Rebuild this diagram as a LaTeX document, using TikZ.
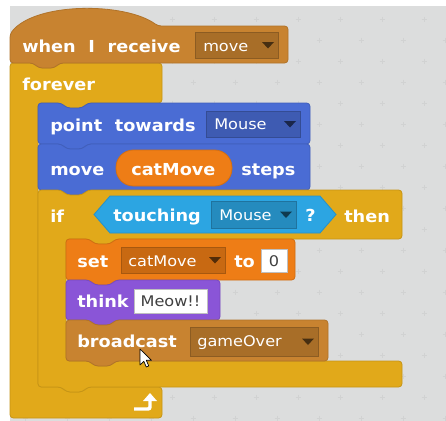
\documentclass[tikz,border=0pt]{standalone}
\usepackage{fontspec}
\setmainfont{DejaVu Sans}
\newfontfamily\blkfam{DejaVu Sans Bold}[FakeStretch=1.07]
\newfontfamily\ddfam{DejaVu Sans}[FakeStretch=1.1]
\usepackage{tikz}

\definecolor{events}{HTML}{C88330}
\definecolor{control}{HTML}{E1A91A}
\definecolor{motion}{HTML}{4A6CD4}
\definecolor{looks}{HTML}{8A55D7}
\definecolor{sensing}{HTML}{2CA5E2}
\definecolor{data}{HTML}{EE7D16}
\definecolor{canvas}{HTML}{DCDDDD}
\definecolor{gridplus}{HTML}{D1D2D2}

\newcommand\lblfont{\blkfam\fontsize{12.4}{12.4}\selectfont\spaceskip=9.5pt\relax}
\newcommand\ddfont{\ddfam\fontsize{11}{11}\selectfont}
% stack block: colour, left, top, right, bottom
\newcommand\stackblk[5]{%
  \filldraw[fill=#1,draw=#1!88!black,line width=0.6pt,rounded corners=2.5]
    (#2,#3) -- ({#2+23},#3) -- ({#2+29},{#3+5}) -- ({#2+44},{#3+5}) -- ({#2+50},#3)
    -- (#4,#3) -- (#4,#5) -- ({#2+50},#5) -- ({#2+44},{#5+5}) -- ({#2+29},{#5+5})
    -- ({#2+23},#5) -- (#2,#5) -- cycle;}
% dropdown: colour, left, top, right, bottom
\newcommand\ddbox[5]{%
  \filldraw[fill=#1!84!black,draw=#1!70!black,line width=0.4pt] (#2,#3) rectangle (#4,#5);
  \fill[#1!35!black] ({#4-16},{(#3+#5)/2-3}) -- ++(12,0) -- ++(-6,6.5) -- cycle;}

\begin{document}
\begin{tikzpicture}[x=0.75pt,y=-0.75pt,
  lbl/.style={anchor=base west,inner sep=0,text=white,font=\lblfont},
  ddtxt/.style={anchor=base west,inner sep=0,text=white,font=\ddfont},
  field/.style={fill=white,draw=black!25,line width=0.4pt},
  fldtxt/.style={anchor=base,inner sep=0,text=black!75,font=\ddfont}]
\useasboundingbox (0,0) rectangle (446,421);

% scripts area with its grid
\fill[white] (0,0) rectangle (446,421);
\fill[canvas] (10,6) rectangle (446,421);
\begin{scope}
\clip (10,6) rectangle (446,421);
\foreach \j in {0,...,19}
  \foreach \i in {0,...,10}
    \draw[gridplus,line width=0.5pt] ({4+42*\i+21*mod(\j,2)-2.5},{19+21*\j}) -- ++(5,0)
      ({4+42*\i+21*mod(\j,2)},{19+21*\j-2.5}) -- ++(0,5);
\end{scope}

% forever
\filldraw[fill=control,draw=control!88!black,line width=0.6pt,rounded corners=2.5]
  (10,63) -- (33,63) -- (39,68) -- (54,68) -- (60,63) -- (162,63) -- (162,103)
  -- (88,103) -- (82,108) -- (67,108) -- (61,103) -- (38,103)
  -- (38,387) -- (61,387) -- (67,392) -- (82,392) -- (88,387) -- (162,387)
  -- (162,418) -- (10,418) -- cycle;
\node[lbl] (fvr) at (22,90.5) {forever};
\draw[white,line width=2.6pt,rounded corners=1.5] (134,409) -- (150,409) -- (150,400);
\fill[white] (143,401) -- (157,401) -- (150,393) -- cycle;

% hat
\filldraw[fill=events,draw=events!88!black,line width=0.6pt,rounded corners=2.5]
  (10,63) -- (10,34) .. controls (35,2) and (125,2) .. (158,26) -- (288,26) -- (288,63)
  -- (60,63) -- (54,68) -- (39,68) -- (33,63) -- cycle;
\node[lbl] (recv) at (22,52) {when I receive};
\ddbox{events}{195}{32}{278}{58}
\node[ddtxt] (msg) at (203,51.5) {move};

% motion
\stackblk{motion}{38}{103}{310}{144}
\node[lbl] (point) at (50,131.5) {point towards};
\ddbox{motion}{206}{111}{300}{137}
\node[ddtxt] (tgt) at (214,129.5) {Mouse};

\stackblk{motion}{38}{144}{310}{190}
\node[lbl] (mv) at (50,175) {move};
\filldraw[fill=data,draw=data!88!black,line width=0.6pt,rounded corners=13pt] (116,150) rectangle (232,186);
\node[lbl] (var) at (131,175) {catMove};
\node[lbl] (stp) at (241,175) {steps};

% if ... then
\filldraw[fill=control,draw=control!88!black,line width=0.6pt,rounded corners=2.5]
  (38,190) -- (61,190) -- (67,195) -- (82,195) -- (88,190) -- (402,190) -- (402,239)
  -- (116,239) -- (110,244) -- (95,244) -- (89,239) -- (66,239)
  -- (66,361) -- (89,361) -- (95,366) -- (110,366) -- (116,361) -- (402,361)
  -- (402,387) -- (88,387) -- (82,392) -- (67,392) -- (61,387) -- (38,387) -- cycle;
\node[lbl] (cond) at (50,222.5) {if};
\filldraw[fill=sensing,draw=sensing!88!black,line width=0.6pt]
  (94,214.5) -- (110,196) -- (320,196) -- (336,214.5) -- (320,233) -- (110,233) -- cycle;
\node[lbl] (tch) at (113,221.5) {touching};
\ddbox{sensing}{211}{201}{296}{228}
\node[ddtxt] (obj) at (219,220) {Mouse};
\node[lbl] (qm) at (305,221.5) {?};
\node[lbl] (thn) at (344,222) {then};

% inside the if
\stackblk{data}{66}{239}{295}{280}
\node[lbl] (st) at (77,267) {set};
\ddbox{data}{121}{247}{225}{273}
\node[ddtxt] (vsel) at (128,266.5) {catMove};
\node[lbl] (to) at (234,267) {to};
\filldraw[field] (261,249) rectangle (287,272);
\node[fldtxt] (val) at (274,266.5) {0};

\stackblk{looks}{66}{280}{220}{320}
\node[lbl] (thk) at (77,307.5) {think};
\filldraw[field] (134,289) rectangle (207,313);
\node[fldtxt] (say) at (170.5,306.5) {Meow!!};

\stackblk{events}{66}{320}{328}{361}
\node[lbl] (bc) at (77,347) {broadcast};
\ddbox{events}{190}{327}{318}{356}
\node[ddtxt] (out) at (197,346.5) {gameOver};

% mouse pointer
\coordinate (cur) at (140,349);
\filldraw[fill=white,draw=black,line width=0.5pt,line join=round]
  (cur) -- ++(0,16) -- ++(3.8,-3.7) -- ++(2.5,5.7) -- ++(2.5,-1) -- ++(-2.5,-5.7) -- ++(5.2,0) -- cycle;
\end{tikzpicture}
\end{document}
